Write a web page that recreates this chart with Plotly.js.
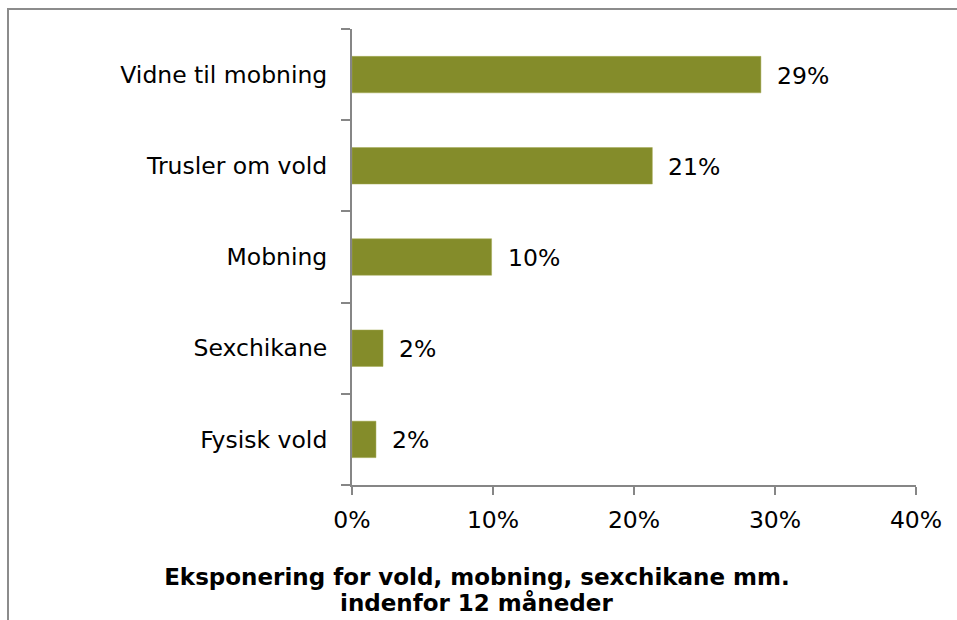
<!DOCTYPE html>
<html>
<head>
<meta charset="utf-8">
<script src="https://cdn.plot.ly/plotly-3.0.1.min.js"></script>
<style>
  html, body { margin: 0; padding: 0; background: #ffffff; overflow: hidden; }
  #chart { position: absolute; left: 0; top: 0; width: 957px; height: 620px; }
  #frame { position: absolute; left: 7px; top: 8px; width: 1000px; height: 700px;
           border-top: 2px solid #8c8c8c; border-left: 2px solid #8c8c8c; pointer-events: none; }
</style>
</head>
<body>
<div id="chart"></div>
<div id="frame"></div>
<script>
// Data (bottom to top as drawn)
const categories = ["Fysisk vold", "Sexchikane", "Mobning", "Trusler om vold", "Vidne til mobning"];
const values = [0.017, 0.022, 0.099, 0.213, 0.290];
const valueLabels = ["2%", "2%", "10%", "21%", "29%"];
const xTickValues = [0, 0.1, 0.2, 0.3, 0.4];
const xTickLabels = ["0%", "10%", "20%", "30%", "40%"];
const titleLine1 = "Eksponering for vold, mobning, sexchikane mm.";
const titleLine2 = "indenfor 12 måneder";

const FONT = "'DejaVu Sans', Verdana, sans-serif";
const FS = 23.5;
const TFS = 23;
const axisColor = "#868686";

const trace = {
  type: "bar",
  orientation: "h",
  y: categories,
  x: values,
  width: 0.4,
  marker: { color: "#848C2A", line: { color: "#A4AB55", width: 0.5 } },
  hoverinfo: "skip"
};

const annotations = categories.map((c, i) => ({
  x: values[i], y: c, xref: "x", yref: "y",
  text: valueLabels[i], showarrow: false,
  xanchor: "left", yanchor: "middle", xshift: 14, yshift: -1,
  font: { family: FONT, size: FS, color: "#000000" }
}));
annotations.push({
  xref: "paper", yref: "paper", x: 0.2216, y: 0,
  xanchor: "center", yanchor: "middle", yshift: -118,
  text: titleLine2, showarrow: false,
  font: { family: FONT, size: TFS, color: "#000000", weight: "bold" }
});

const layout = {
  width: 957, height: 620,
  margin: { l: 352, r: 41, t: 29, b: 135 },
  paper_bgcolor: "rgba(0,0,0,0)",
  plot_bgcolor: "rgba(0,0,0,0)",
  showlegend: false,
  font: { family: FONT, size: FS, color: "#000000" },
  xaxis: {
    range: [0, 0.4],
    tickvals: xTickValues,
    ticktext: xTickLabels,
    ticks: "outside", ticklen: 8, tickwidth: 2, tickcolor: axisColor,
    showline: true, linecolor: axisColor, linewidth: 2,
    showgrid: false, zeroline: false,
    tickfont: { family: FONT, size: FS, color: "#000000" },
    ticklabelstandoff: 5,
    fixedrange: true
  },
  yaxis: {
    type: "category",
    categoryorder: "array",
    categoryarray: categories,
    tickson: "boundaries",
    ticks: "outside", ticklen: 9, tickwidth: 2, tickcolor: axisColor,
    showline: true, linecolor: axisColor, linewidth: 2,
    showgrid: false, zeroline: false,
    tickfont: { family: FONT, size: FS, color: "#000000" },
    ticklabelstandoff: 18,
    fixedrange: true
  },
  title: {
    text: titleLine1,
    font: { family: FONT, size: TFS, color: "#000000", weight: "bold" },
    xref: "container", x: 0.4984, xanchor: "center",
    yref: "container", y: 1 - 577 / 620, yanchor: "middle"
  },
  annotations: annotations
};

Plotly.newPlot("chart", [trace], layout, { displayModeBar: false, staticPlot: true });
</script>
</body>
</html>
